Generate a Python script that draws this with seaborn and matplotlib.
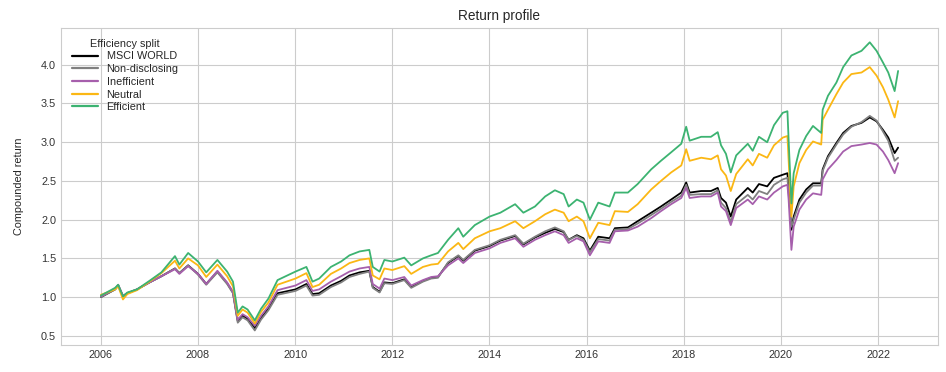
import pandas as pd
import matplotlib.pyplot as plt
import seaborn as sns

# values (compounded return, start = 1.0)
dates = [
    "2006-01-02", "2006-04-19", "2006-05-12", "2006-06-17", "2006-07-20", "2006-10-01",
    "2007-01-02", "2007-04-02", "2007-07-13", "2007-08-15", "2007-10-20",
    "2008-01-02", "2008-03-04", "2008-05-27", "2008-08-08", "2008-09-21", "2008-10-27", "2008-12-02",
    "2009-01-09", "2009-03-04", "2009-04-20", "2009-06-14", "2009-08-22",
    "2010-01-04", "2010-03-27", "2010-05-12", "2010-07-01", "2010-09-27", "2010-12-13",
    "2011-02-14", "2011-05-01", "2011-07-13", "2011-08-08", "2011-09-28", "2011-11-03",
    "2012-01-02", "2012-04-01", "2012-05-23", "2012-08-19", "2012-10-20", "2012-12-10",
    "2013-02-24", "2013-05-12", "2013-06-18", "2013-09-13",
    "2014-01-02", "2014-03-24", "2014-07-13", "2014-09-13", "2014-12-09",
    "2015-02-24", "2015-05-08", "2015-07-13", "2015-08-19", "2015-10-20", "2015-12-09",
    "2016-01-26", "2016-03-29", "2016-06-22", "2016-08-01", "2016-11-07",
    "2017-01-19", "2017-05-01", "2017-07-13", "2017-09-28", "2017-12-13",
    "2018-01-19", "2018-02-14", "2018-05-12", "2018-07-24", "2018-09-13", "2018-10-08",
    "2018-11-14", "2018-12-20",
    "2019-01-30", "2019-04-27", "2019-06-03", "2019-07-20", "2019-09-20", "2019-11-10",
    "2020-01-15", "2020-02-19", "2020-02-28", "2020-03-20", "2020-04-06", "2020-05-19",
    "2020-07-09", "2020-08-29", "2020-10-30", "2020-11-10", "2020-12-20",
    "2021-02-21", "2021-04-13", "2021-06-14", "2021-08-29", "2021-10-30", "2021-12-20",
    "2022-02-06", "2022-03-18", "2022-05-05", "2022-05-31",
]

msci_world = [
    1.00, 1.10, 1.15, 1.01, 1.05, 1.10,
    1.19, 1.27, 1.37, 1.31, 1.41,
    1.30, 1.17, 1.33, 1.18, 1.06, 0.69, 0.76,
    0.72, 0.60, 0.73, 0.85, 1.05,
    1.10, 1.17, 1.04, 1.05, 1.15, 1.21,
    1.28, 1.32, 1.34, 1.13, 1.07, 1.19,
    1.18, 1.23, 1.13, 1.21, 1.25, 1.26,
    1.44, 1.53, 1.47, 1.60,
    1.66, 1.73, 1.79, 1.68, 1.77,
    1.83, 1.88, 1.84, 1.74, 1.80, 1.76,
    1.60, 1.78, 1.76, 1.89, 1.90,
    1.98, 2.09, 2.17, 2.26, 2.35,
    2.48, 2.35, 2.37, 2.37, 2.41, 2.28,
    2.22, 2.04,
    2.26, 2.41, 2.35, 2.46, 2.43, 2.54,
    2.58, 2.60, 2.39, 1.87, 2.04, 2.26,
    2.39, 2.47, 2.47, 2.65, 2.82,
    2.99, 3.12, 3.21, 3.25, 3.32, 3.27,
    3.16, 3.06, 2.86, 2.93,
]

non_disclosing = [
    1.00, 1.10, 1.15, 1.01, 1.05, 1.10,
    1.19, 1.27, 1.37, 1.31, 1.41,
    1.29, 1.16, 1.32, 1.17, 1.05, 0.67, 0.74,
    0.70, 0.57, 0.71, 0.83, 1.03,
    1.08, 1.15, 1.02, 1.03, 1.13, 1.19,
    1.26, 1.30, 1.33, 1.12, 1.06, 1.18,
    1.17, 1.22, 1.12, 1.20, 1.24, 1.25,
    1.45, 1.54, 1.48, 1.61,
    1.67, 1.74, 1.80, 1.69, 1.78,
    1.85, 1.90, 1.85, 1.74, 1.79, 1.74,
    1.58, 1.75, 1.73, 1.87, 1.88,
    1.95, 2.06, 2.14, 2.23, 2.31,
    2.45, 2.32, 2.33, 2.33, 2.38, 2.22,
    2.15, 1.97,
    2.20, 2.32, 2.26, 2.37, 2.33, 2.45,
    2.52, 2.54, 2.34, 1.91, 2.00, 2.22,
    2.35, 2.44, 2.44, 2.63, 2.80,
    2.97, 3.10, 3.20, 3.26, 3.34, 3.28,
    3.14, 3.02, 2.76, 2.80,
]

inefficient = [
    1.01, 1.11, 1.16, 1.02, 1.05, 1.10,
    1.19, 1.27, 1.36, 1.30, 1.40,
    1.30, 1.17, 1.34, 1.19, 1.07, 0.71, 0.78,
    0.74, 0.63, 0.76, 0.88, 1.09,
    1.15, 1.22, 1.08, 1.10, 1.20, 1.27,
    1.33, 1.37, 1.39, 1.17, 1.11, 1.24,
    1.22, 1.26, 1.15, 1.22, 1.26, 1.27,
    1.41, 1.50, 1.44, 1.57,
    1.63, 1.70, 1.76, 1.65, 1.74,
    1.80, 1.85, 1.80, 1.70, 1.76, 1.72,
    1.54, 1.72, 1.70, 1.85, 1.86,
    1.91, 2.02, 2.11, 2.20, 2.28,
    2.41, 2.28, 2.30, 2.30, 2.35, 2.17,
    2.11, 1.93,
    2.15, 2.26, 2.20, 2.30, 2.26, 2.35,
    2.43, 2.45, 2.26, 1.61, 1.91, 2.13,
    2.26, 2.34, 2.32, 2.52, 2.65,
    2.77, 2.88, 2.95, 2.97, 2.99, 2.97,
    2.88, 2.77, 2.60, 2.73,
]

neutral = [
    1.03, 1.10, 1.14, 0.97, 1.04, 1.09,
    1.20, 1.31, 1.47, 1.37, 1.50,
    1.41, 1.26, 1.42, 1.27, 1.14, 0.76, 0.84,
    0.80, 0.66, 0.81, 0.93, 1.16,
    1.24, 1.31, 1.13, 1.16, 1.30, 1.37,
    1.44, 1.48, 1.50, 1.28, 1.23, 1.37,
    1.35, 1.40, 1.30, 1.39, 1.42, 1.43,
    1.59, 1.70, 1.62, 1.76,
    1.85, 1.89, 1.98, 1.89, 1.98,
    2.07, 2.13, 2.09, 1.98, 2.04, 1.98,
    1.76, 1.96, 1.93, 2.11, 2.10,
    2.20, 2.39, 2.50, 2.61, 2.70,
    2.91, 2.76, 2.80, 2.78, 2.83, 2.65,
    2.57, 2.37,
    2.59, 2.78, 2.70, 2.85, 2.80, 2.96,
    3.06, 3.08, 2.77, 2.04, 2.43, 2.73,
    2.90, 3.01, 2.97, 3.29, 3.42,
    3.62, 3.77, 3.88, 3.90, 3.97, 3.86,
    3.71, 3.55, 3.32, 3.53,
]

efficient = [
    1.02, 1.12, 1.16, 1.01, 1.06, 1.10,
    1.21, 1.32, 1.53, 1.42, 1.57,
    1.46, 1.32, 1.48, 1.33, 1.20, 0.80, 0.88,
    0.84, 0.70, 0.85, 0.98, 1.22,
    1.33, 1.39, 1.20, 1.24, 1.39, 1.46,
    1.54, 1.59, 1.61, 1.39, 1.33, 1.48,
    1.46, 1.51, 1.41, 1.50, 1.54, 1.57,
    1.74, 1.89, 1.78, 1.93,
    2.04, 2.09, 2.20, 2.09, 2.17,
    2.30, 2.38, 2.33, 2.17, 2.26, 2.22,
    2.00, 2.22, 2.17, 2.35, 2.35,
    2.46, 2.65, 2.76, 2.87, 2.98,
    3.20, 3.02, 3.07, 3.07, 3.13, 2.96,
    2.85, 2.61,
    2.83, 2.98, 2.89, 3.07, 3.00, 3.22,
    3.38, 3.40, 3.03, 2.21, 2.60, 2.90,
    3.08, 3.21, 3.12, 3.42, 3.60,
    3.77, 3.97, 4.12, 4.18, 4.29, 4.18,
    4.03, 3.90, 3.66, 3.92,
]

series_names = ["MSCI WORLD", "Non-disclosing", "Inefficient", "Neutral", "Efficient"]
series_colors = ["black", "grey", "#a65fac", "#fbb714", "#3cb371"]


def main():
    wide = pd.DataFrame({
        "date": pd.to_datetime(dates),
        "MSCI WORLD": msci_world,
        "Non-disclosing": non_disclosing,
        "Inefficient": inefficient,
        "Neutral": neutral,
        "Efficient": efficient,
    })
    df = wide.melt(id_vars="date", var_name="Efficiency split", value_name="ret")

    sns.set_style("whitegrid")
    plt.rcParams["font.family"] = ["Liberation Sans", "DejaVu Sans"]

    fig = plt.figure(figsize=(9.46, 3.72), dpi=100)
    ax = fig.add_axes([0.0645, 0.073, 0.927, 0.852])

    sns.lineplot(data=df, x="date", y="ret", hue="Efficiency split",
                 hue_order=series_names,
                 palette=dict(zip(series_names, series_colors)),
                 linewidth=1.3, ax=ax)

    ax.set_title("Return profile", fontsize=9.8, color="0.15")
    ax.set_xlabel("")
    ax.set_ylabel("Compounded return", fontsize=7.8, color="0.15", labelpad=12)
    ax.tick_params(axis="both", labelsize=7.8, colors="0.2", length=0)
    ax.set_yticks([0.5, 1.0, 1.5, 2.0, 2.5, 3.0, 3.5, 4.0])

    leg = ax.legend(title="Efficiency split", loc="upper left", frameon=False,
                    fontsize=7.8, title_fontsize=7.8, handlelength=2.4,
                    labelspacing=0.25, borderaxespad=0.6)
    for line in leg.get_lines():
        line.set_linewidth(1.6)

    fig.savefig("out.png", dpi=100)
    plt.close(fig)


if __name__ == "__main__":
    main()
